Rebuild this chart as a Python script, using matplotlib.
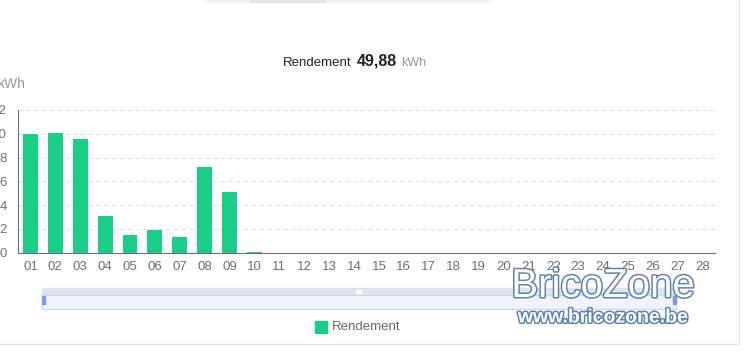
"""Daily yield (Rendement) bar chart with a dataZoom-like slider underneath."""

import matplotlib
matplotlib.use("Agg")
import matplotlib.pyplot as plt
import matplotlib.patheffects as pe
from matplotlib.patches import Rectangle

W, H = 748, 363
DPI  = 100

DAYS   = [f"{d:02d}" for d in range(1, 29)]
YIELD  = [10.0, 10.1, 9.56, 3.1, 1.5, 1.95, 1.33, 7.2, 5.1, 0.06]
TOTAL  = "49,88"
YTICKS = [0, 2, 4, 6, 8, 10, 12]

GREEN = "#19ce87"
GREY  = "#6e7079"


def px(x, y):
    """Pixel coords (top-left origin) -> figure fraction."""
    return x / W, 1 - y / H


def main():
    fig = plt.figure(figsize=(W / DPI, H / DPI), dpi=DPI)
    plt.rcParams["font.family"] = ["Liberation Sans", "DejaVu Sans"]

    # main plot area
    x0, x1, ytop, ybot = 18, 715, 110, 252.7
    ax = fig.add_axes([x0 / W, 1 - ybot / H, (x1 - x0) / W, (ybot - ytop) / H])
    xs = list(range(len(YIELD)))
    ax.bar(xs, YIELD, width=0.6, color=GREEN, zorder=3)
    ax.set_xlim(-0.5, len(DAYS) - 0.5)
    ax.set_ylim(0, 12)
    ax.set_xticks(range(len(DAYS)))
    ax.set_xticklabels(DAYS)
    ax.set_yticks(YTICKS)
    ax.tick_params(axis="both", length=0, labelsize=9.5, colors=GREY)
    ax.tick_params(axis="x", pad=6)
    ax.tick_params(axis="y", pad=8)
    ax.grid(axis="y", color="#e0e0e0", linestyle=(0, (4, 3)), linewidth=0.8, zorder=0)
    for s in ("top", "right"):
        ax.spines[s].set_visible(False)
    ax.spines["bottom"].set_color(GREY)
    ax.spines["left"].set_color(GREY)
    ax.spines["left"].set_linewidth(0.8)

    # y axis name
    fig.text(*px(-3, 84), "kWh", fontsize=10, color="#999999", va="center", ha="left")

    # title pieces
    fig.text(*px(352, 66), "Rendement", fontsize=9.5, color="#222222",
             va="baseline", ha="right")
    fig.text(*px(357, 66), TOTAL, fontsize=11.5, fontweight="bold", color="#222222",
             va="baseline")
    fig.text(*px(401, 66), "kWh", fontsize=9, color="#999999", va="baseline")

    # slider (dataZoom)
    sx0, sx1 = 42, 676
    fig.patches.append(Rectangle(px(sx0, 295), (sx1 - sx0) / W, 7 / H,
                                 transform=fig.transFigure, color="#dde3f0", zorder=1))
    fig.patches.append(Rectangle(px(sx0, 309), (sx1 - sx0) / W, 14 / H,
                                 transform=fig.transFigure, facecolor="#eef3fd",
                                 edgecolor="#cdd5e6", linewidth=0.8, zorder=1))
    sax = fig.add_axes([sx0 / W, 1 - 309 / H, (sx1 - sx0) / W, 14 / H])
    sax.fill_between(xs, YIELD, 0, color="#d6e0f7", alpha=0.5, linewidth=0.8,
                     edgecolor="#c9d6f5")
    sax.set_xlim(0, len(DAYS) - 1)
    sax.set_ylim(-14, 11)
    sax.axis("off")
    for hx in (sx0, sx1 - 3):
        fig.patches.append(Rectangle(px(hx, 304), 3 / W, 8 / H,
                                     transform=fig.transFigure, color="#7b9be8", zorder=3))
    for k in range(3):
        fig.patches.append(Rectangle(px(356 + k * 2, 293), 1 / W, 3 / H,
                                     transform=fig.transFigure, color="white", zorder=3))

    # legend
    fig.patches.append(Rectangle(px(315, 333), 12 / W, 12 / H,
                                 transform=fig.transFigure, color=GREEN))
    fig.text(*px(332, 327), "Rendement", fontsize=9.5, color="#666666", va="center")

    # page frame lines
    fig.add_artist(plt.Line2D([0, 739 / W], [1 - 344 / H] * 2, color="#e6e6e6", lw=1,
                              transform=fig.transFigure))
    fig.add_artist(plt.Line2D([739 / W] * 2, [1 - 344 / H, 1], color="#e6e6e6", lw=1,
                              transform=fig.transFigure))
    fig.patches.append(Rectangle(px(205, 2), 285 / W, 2 / H,
                                 transform=fig.transFigure, color="#f2f2f2"))
    fig.patches.append(Rectangle(px(250, 2), 75 / W, 2 / H,
                                 transform=fig.transFigure, color="#e6e6e6"))

    # watermark
    stroke = [pe.withStroke(linewidth=2.2, foreground="#5f84b0")]
    fig.text(*px(603, 286), "BricoZone", fontsize=29, color="white", ha="center",
             va="center", path_effects=stroke, zorder=10)
    fig.text(*px(603, 318), "www.bricozone.be", fontsize=14, fontweight="bold",
             color="white", ha="center", va="center", path_effects=stroke, zorder=10)

    fig.savefig("out.png", dpi=DPI)
    plt.close(fig)


if __name__ == "__main__":
    main()
